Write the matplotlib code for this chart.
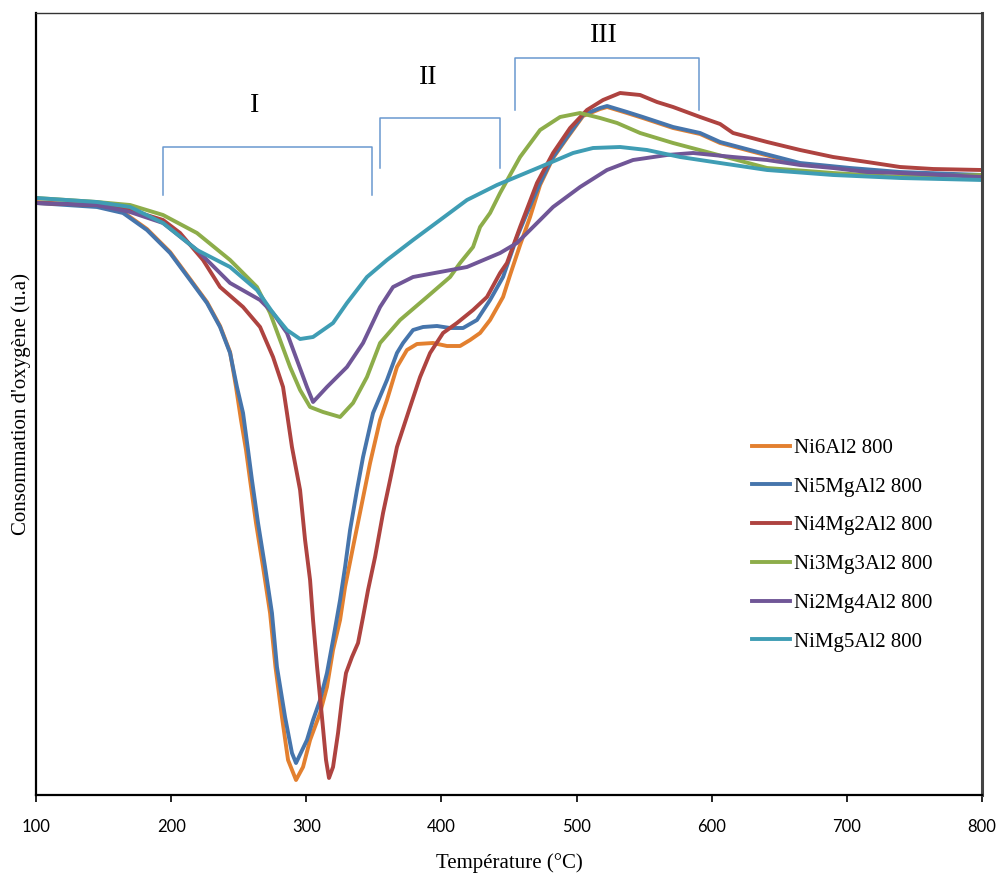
import matplotlib
matplotlib.use("Agg")
import matplotlib.pyplot as plt

# TPR profiles, values (x in degC, y in a.u.)
t_ni6 = [100, 145.1, 164.4, 182.1, 199.2, 214, 226.5, 236.2, 243.6, 248, 251.7, 255.4, 258.4, 262.8, 268,
         273.2, 277.2, 282, 286.5, 292.4, 297.6, 302.8, 310.2, 315.3, 319.8, 325, 328.7, 334.6, 341.2, 347.2,
         354.6, 359.7, 367.1, 374.5, 381.9, 393.8, 404.1, 413.8, 421.2, 428.6, 436, 445.6, 450.8, 458.2, 465.6,
         473, 482.6, 493, 504.8, 517.4, 522.6, 537.3, 549, 571.4, 591.4, 606.2, 628.4, 665.4, 702.4, 739.4, 800]
y_ni6 = [59.3, 58.9, 58.3, 56.6, 54.3, 51.6, 49.3, 46.9, 44.3, 40.8, 37.5, 34.5, 31.5, 27.2, 22.8,
         18.2, 12.8, 7.8, 3.5, 1.5, 2.8, 5.5, 8.2, 10.8, 14.5, 17.5, 20.8, 24.8, 29.2, 33.2,
         37.5, 39.5, 42.8, 44.5, 45.1, 45.2, 44.9, 44.9, 45.5, 46.2, 47.5, 49.8, 52, 55, 57.8,
         61, 63.7, 65.7, 67.9, 68.6, 68.8, 68.2, 67.7, 66.7, 66.1, 65.2, 64.4, 63.1, 62.6, 62.2, 61.9]

t_ni5 = [100, 145.1, 164.4, 182.1, 199.2, 214, 226.5, 236.2, 243.6, 248.7, 253.2, 256.9, 259.8, 264.3, 269.5,
         274.6, 278.3, 284.3, 289.4, 292.4, 300.5, 305, 310.2, 315.3, 319.8, 325, 328.7, 332.4, 337.5, 342,
         349.4, 359.7, 367.1, 371.6, 379, 386.4, 396.7, 406.4, 416, 426.3, 436, 445.6, 455.9, 463.3, 473,
         482.6, 493, 504.8, 517.4, 522.6, 537.3, 549, 571.4, 591.4, 606.2, 628.4, 665.4, 702.4, 739.4, 800]
y_ni5 = [59.2, 58.8, 58.2, 56.5, 54.2, 51.5, 49.2, 46.8, 44.2, 40.8, 38.2, 34.5, 31.5, 27.2, 22.8,
         18.2, 12.8, 7.8, 4.2, 3.2, 5.5, 7.5, 9.5, 12.2, 15.5, 19.5, 22.8, 26.5, 30.5, 33.8,
         38.2, 41.5, 44.2, 45.2, 46.5, 46.8, 46.9, 46.7, 46.7, 47.5, 49.5, 51.8, 55.8, 58.2, 61.2,
         63.8, 65.8, 68, 68.7, 68.9, 68.3, 67.8, 66.8, 66.2, 65.3, 64.5, 63.2, 62.7, 62.3, 62.0]

t_ni4 = [100, 145.1, 169.6, 194, 206.6, 223.6, 236.2, 253.2, 265.8, 275.4, 282.8, 285.7, 289.4, 295.4, 299.1,
         302.8, 305, 308, 311.6, 314.6, 316.8, 319.8, 323.5, 326.4, 329.4, 333.8, 338.3, 342, 345.7, 350.9,
         356.8, 362, 367.1, 376.8, 384.2, 391.6, 401.2, 411.5, 423.4, 433.7, 443.4, 448.5, 458.2, 470.7, 482.6,
         495.2, 507.7, 519.6, 532.2, 547, 559.5, 571.4, 591.4, 606.2, 615.8, 641, 665.4, 689.8, 715, 739.4,
         763.8, 800]
y_ni4 = [59.2, 59, 58.5, 57.5, 56.2, 53.5, 50.8, 48.8, 46.8, 43.8, 40.8, 38.2, 34.8, 30.5, 25.5,
         21.5, 17.5, 12.8, 7.8, 3.5, 1.7, 2.8, 6.2, 9.5, 12.2, 13.8, 15.2, 17.8, 20.5, 23.8,
         28.2, 31.5, 34.8, 38.8, 41.8, 44.2, 46.2, 47.2, 48.5, 49.8, 52.2, 53.2, 56.8, 61.2, 64.2,
         66.7, 68.5, 69.5, 70.2, 70, 69.3, 68.8, 67.8, 67.1, 66.2, 65.3, 64.5, 63.8, 63.3, 62.8,
         62.6, 62.5]

t_ni3 = [100, 145.1, 169.6, 194, 219.1, 243.6, 263.5, 273.2, 280.6, 288, 295.4, 302.8, 312.4, 325, 334.6,
         344.9, 354.6, 369.4, 389.3, 406.4, 413.8, 423.4, 428.6, 436, 443.4, 458.2, 473, 487.8, 502.6, 517.4,
         530, 547, 571.4, 596.5, 641, 689.8, 739.4, 800]
y_ni3 = [59.7, 59.3, 59, 58, 56.2, 53.5, 50.8, 48.2, 45.5, 42.8, 40.5, 38.8, 38.3, 37.8, 39.2,
         41.8, 45.2, 47.5, 49.8, 51.8, 53.2, 54.8, 56.8, 58.2, 60.2, 63.8, 66.5, 67.8, 68.2, 67.7,
         67.2, 66.2, 65.2, 64.3, 62.7, 62.2, 61.8, 62]

t_ni2 = [100, 145.1, 169.6, 194, 219.1, 243.6, 265.8, 275.4, 285.7, 293.1, 300.5, 305, 315.3, 330.1, 342,
         354.6, 364.2, 379, 399, 418.9, 443.4, 455.9, 473, 482.6, 502.6, 522.5, 541.8, 566.9, 586.2, 615.8,
         641, 665.4, 689.8, 715, 739.4, 800]
y_ni2 = [59.2, 59, 58.3, 57.2, 54.5, 51.2, 49.5, 48.2, 46.2, 43.5, 40.8, 39.3, 40.8, 42.8, 45.2,
         48.8, 50.8, 51.8, 52.3, 52.8, 54.2, 55.2, 57.5, 58.8, 60.8, 62.5, 63.5, 64, 64.2, 63.8,
         63.5, 63, 62.7, 62.3, 62.2, 61.8]

t_ni1 = [100, 145.1, 169.6, 194, 219.1, 243.6, 263.5, 275.4, 285.7, 295.4, 305, 319.8, 330.1, 344.9, 359.7,
         379, 399, 418.9, 441.1, 473, 497.4, 512.2, 532.2, 552.1, 576.6, 606.2, 641, 689.8, 739.4, 800]
y_ni1 = [59.7, 59.3, 58.8, 57.2, 54.5, 52.8, 50.5, 48.2, 46.5, 45.6, 45.8, 47.2, 49.2, 51.8, 53.5,
         55.5, 57.5, 59.5, 61, 62.8, 64.2, 64.7, 64.8, 64.5, 63.8, 63.2, 62.5, 62, 61.7, 61.5]

series = [
    ("Ni6Al2 800", t_ni6, y_ni6, "#E3802F"),
    ("Ni5MgAl2 800", t_ni5, y_ni5, "#4675AC"),
    ("Ni4Mg2Al2 800", t_ni4, y_ni4, "#AE4340"),
    ("Ni3Mg3Al2 800", t_ni3, y_ni3, "#8DAD4A"),
    ("Ni2Mg4Al2 800", t_ni2, y_ni2, "#705697"),
    ("NiMg5Al2 800", t_ni1, y_ni1, "#3F9DB4"),
]

# reduction zones (bracket start/end temperature, bracket top/bottom level, label)
zone_names = ["I", "II", "III"]
zone_start = [194, 354.6, 454.5]
zone_end = [348.6, 443.4, 590.6]
zone_top = [64.8, 67.7, 73.7]
zone_bottom = [60.0, 62.7, 68.5]
zone_label_x = [262, 390, 520]
zone_label_y = [69.0, 71.8, 76.0]

fig = plt.figure(figsize=(9.96, 8.74), dpi=100)
ax = fig.add_axes([36 / 996, 1 - 795 / 874, 946 / 996, 782 / 874])

for name, t, y, c in series:
    ax.plot(t, y, color=c, lw=2.8, label=name, solid_joinstyle="round")

for i in range(len(zone_names)):
    ax.plot([zone_start[i], zone_start[i], zone_end[i], zone_end[i]],
            [zone_bottom[i], zone_top[i], zone_top[i], zone_bottom[i]],
            color="#6A98CF", lw=1.1)
    ax.text(zone_label_x[i], zone_label_y[i], zone_names[i], ha="center", va="center",
            fontsize=20, family="Liberation Serif")

ax.set_xlim(100, 800)
ax.set_ylim(0, 78.2)
ax.set_xticks(range(100, 801, 100))
ax.set_yticks([])
ax.tick_params(axis="x", direction="out", length=5, width=1.2, pad=12, labelsize=12)
for lab in ax.get_xticklabels():
    lab.set_family("Lato")

ax.spines["left"].set_linewidth(1.6)
ax.spines["bottom"].set_linewidth(1.6)
ax.spines["top"].set_linewidth(1.0)
ax.spines["top"].set_color("#333333")
ax.spines["right"].set_linewidth(2.2)
ax.spines["right"].set_color("#444444")

ax.set_xlabel("Température (°C)", fontsize=15, family="Liberation Serif")
ax.xaxis.set_label_coords(0.5, -0.074)
ax.set_ylabel("Consommation d'oxygène (u.a)", fontsize=15, family="Liberation Serif")
ax.yaxis.set_label_coords(-0.005, 0.5)

leg = ax.legend(loc="center left", bbox_to_anchor=(752 / 996, 1 - 545 / 874),
                bbox_transform=fig.transFigure, frameon=False, borderpad=0, borderaxespad=0,
                handlelength=1.8, handletextpad=0.2, labelspacing=0.92,
                prop={"family": "Liberation Serif", "size": 15})

fig.savefig("out.png", dpi=100)
